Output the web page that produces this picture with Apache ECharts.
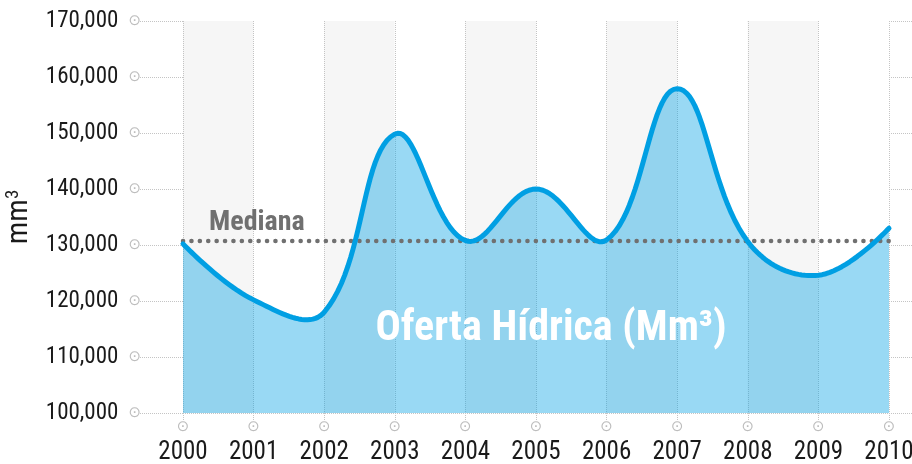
<!DOCTYPE html>
<html>
<head>
<meta charset="utf-8">
<script src="https://cdn.jsdelivr.net/npm/echarts@6/dist/echarts.min.js"></script>
<style>
  html, body { margin: 0; padding: 0; background: #fff; }
  #chart { width: 912px; height: 464px; }
</style>
</head>
<body>
<div id="chart"></div>
<script>
// 年份
const years = ["2000", "2001", "2002", "2003", "2004", "2005", "2006", "2007", "2008", "2009", "2010"];
// 水资源供给 (Mm3)
const oferta = [130200, 120200, 118000, 149800, 130800, 140000, 130900, 157900, 130600, 124600, 133000];
// 中位数
const medianValue = 130700;
// y轴刻度
const yMin = 100000;
const yMax = 170000;
const yStep = 10000;

const narrow = '"Roboto Condensed", "Liberation Sans Narrow", "Arial Narrow", "DejaVu Sans Condensed", sans-serif';
const dotted = { color: "#c4c4c4", type: "dotted", width: 1 };

const fmt = (v) => String(v).replace(/\B(?=(\d{3})+(?!\d))/g, ",");

// 平滑曲线采样 (按线段长度分配控制点)
const smoothCurve = (pts, s, steps) => {
	const n = pts.length;
	const back = [];
	const fwd = [];
	pts.forEach((p, i) => {
		if (i === 0 || i === n - 1) {
			back[i] = p;
			fwd[i] = p;
			return;
		}
		const prev = pts[i - 1];
		const next = pts[i + 1];
		const vx = next[0] - prev[0];
		const vy = next[1] - prev[1];
		const lp = Math.hypot(p[0] - prev[0], p[1] - prev[1]);
		const ln = Math.hypot(next[0] - p[0], next[1] - p[1]);
		const r = ln / (lp + ln);
		back[i] = [p[0] - vx * s * (1 - r), p[1] - vy * s * (1 - r)];
		fwd[i] = [p[0] + vx * s * r, p[1] + vy * s * r];
	});
	const out = [pts[0]];
	for (let i = 0; i < n - 1; i++) {
		const p1 = pts[i], c1 = fwd[i], c2 = back[i + 1], p2 = pts[i + 1];
		for (let k = 1; k <= steps; k++) {
			const t = k / steps;
			const u = 1 - t;
			const a = u * u * u, b = 3 * u * u * t, c = 3 * u * t * t, d = t * t * t;
			out.push([
				a * p1[0] + b * c1[0] + c * c2[0] + d * p2[0],
				a * p1[1] + b * c1[1] + c * c2[1] + d * p2[1],
			]);
		}
	}
	return out;
};

const renderCurve = (params, api) => {
	if (params.dataIndex !== 0) return;
	const pts = oferta.map((v, i) => api.coord([i, v]));
	const curve = smoothCurve(pts, 0.4, 24);
	const baseY = api.coord([0, yMin])[1];
	const first = pts[0];
	const last = pts[pts.length - 1];
	const medL = api.coord([0, medianValue]);
	const medR = api.coord([oferta.length - 1, medianValue]);
	return {
		type: "group",
		children: [
			{
				type: "polygon",
				shape: { points: curve.concat([[last[0], baseY], [first[0], baseY]]) },
				style: { fill: "rgba(0, 160, 227, 0.4)" },
			},
			{
				type: "polyline",
				shape: { points: [medL, medR] },
				style: { stroke: "#707070", lineWidth: 4.5, lineDash: [0.1, 8.3], lineCap: "round", fill: null },
			},
			{
				type: "text",
				x: medL[0] + 26,
				y: medL[1] - 4,
				style: {
					text: "Mediana",
					fill: "#707070",
					font: `bold 28px ${narrow}`,
					textAlign: "left",
					textVerticalAlign: "bottom",
				},
			},
			{
				type: "polyline",
				shape: { points: curve },
				style: { stroke: "#009fe3", lineWidth: 5, lineJoin: "round", lineCap: "round", fill: null },
			},
		],
	};
};

const myChart = echarts.init(document.querySelector("#chart"));

myChart.setOption({
	animation: false,
	grid: { left: 183, right: 23, top: 21, bottom: 51, outerBoundsMode: "none" },
	xAxis: {
		type: "category",
		data: years,
		boundaryGap: false,
		axisLine: { show: false },
		axisTick: { show: true, length: 8, lineStyle: dotted },
		axisLabel: {
			margin: 6,
			formatter: (v) => `{d|⊙}\n{v|${v}}`,
			rich: {
				d: { fontFamily: "DejaVu Sans", fontSize: 15, color: "#bdbdbd", lineHeight: 17 },
				v: { fontFamily: narrow, fontSize: 25, color: "#1a1a1a", lineHeight: 33 },
			},
		},
		splitLine: { show: true, lineStyle: dotted },
		splitArea: { show: true, areaStyle: { color: ["#f6f6f6", "#ffffff"] } },
	},
	yAxis: [
		{
			type: "value",
			min: yMin,
			max: yMax,
			interval: yStep,
			name: "{a|mm}{b|3}",
			nameLocation: "middle",
			nameRotate: 90,
			nameGap: 129,
			nameTextStyle: {
				rich: {
					a: { fontFamily: narrow, fontSize: 30, color: "#1a1a1a" },
					b: { fontFamily: narrow, fontSize: 19, color: "#1a1a1a", padding: [0, 0, 13, 0] },
				},
			},
			axisLine: { show: false },
			axisTick: { show: true, length: 43, lineStyle: dotted },
			axisLabel: {
				margin: 42,
				formatter: (v) => `{v|${fmt(v)}}{d|⊙}`,
				rich: {
					v: { fontFamily: narrow, fontSize: 23, color: "#1a1a1a" },
					d: { fontFamily: "DejaVu Sans", fontSize: 15, color: "#bdbdbd", padding: [0, 0, 0, 10] },
				},
			},
			splitLine: { show: true, lineStyle: dotted },
		},
		{
			type: "value",
			position: "right",
			min: yMin,
			max: yMax,
			interval: yStep,
			axisLine: { show: false },
			axisTick: { show: true, length: 23, lineStyle: dotted },
			axisLabel: { show: false },
			splitLine: { show: false },
		},
	],
	series: [
		{
			name: "Oferta Hídrica",
			type: "custom",
			renderItem: renderCurve,
			data: oferta.map((v, i) => [i, v]),
			encode: { x: 0, y: 1 },
			silent: true,
			z: 3,
		},
	],
	graphic: [
		{
			type: "text",
			x: 551,
			y: 329,
			z: 100,
			style: {
				text: "Oferta Hídrica (Mm³)",
				fill: "#ffffff",
				font: `bold 42px ${narrow}`,
				textAlign: "center",
				textVerticalAlign: "middle",
			},
		},
	],
});
</script>
</body>
</html>
